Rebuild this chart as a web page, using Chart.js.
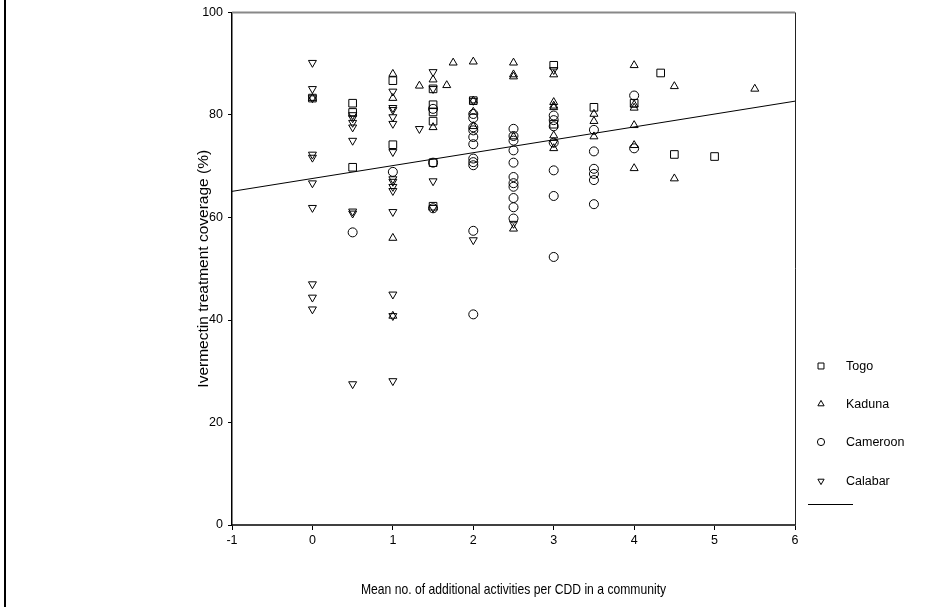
<!DOCTYPE html>
<html>
<head>
<meta charset="utf-8">
<script src="https://cdn.jsdelivr.net/npm/chart.js@4"></script>
<style>
  html, body { margin: 0; padding: 0; background: #fff; }
  #wrap { position: relative; width: 947px; height: 607px; }
  #frame { position: absolute; left: 4px; top: 0; width: 2px; height: 607px; background: #000; }
</style>
</head>
<body>
<div id="wrap">
  <canvas id="c" width="947" height="607"></canvas>
  <div id="frame"></div>
</div>
<script>
// Dados (x = atividades por CDD, y = cobertura %)
const togoX = [0, 0.5, 0.5, 0.5, 1, 1, 1.5, 1.5, 1.5, 1.5, 1.5, 1.5, 2, 3, 3, 3.5, 4, 4.33, 4.5, 5]
const togoY = [83.3, 82.3, 80.5, 69.8, 86.7, 74.2, 85.1, 82.0, 80.6, 78.8, 70.7, 62.2, 82.8, 89.7, 78.2, 81.5, 82.3, 88.2, 72.3, 71.9]

const kadunaX = [0, 1, 1, 1, 1, 1.33, 1.5, 1.5, 1.67, 1.75, 2, 2, 2, 2, 2.5, 2.5, 2.5, 2.5, 2.5,
  3, 3, 3, 3, 3, 3, 3.5, 3.5, 3.5, 4, 4, 4, 4, 4, 4, 4.5, 4.5, 5.5]
const kadunaY = [83.3, 88.0, 83.3, 56.0, 40.8, 85.7, 86.9, 77.6, 85.8, 90.2, 90.4, 80.6, 77.8, 82.8, 90.2, 87.9, 87.5, 75.8, 57.8,
  87.9, 82.5, 81.8, 81.5, 76.0, 73.5, 80.2, 78.8, 75.8, 89.7, 82.0, 81.4, 78.0, 74.1, 69.6, 85.6, 67.6, 85.1]

const cameroonX = [0.5, 1, 1.5, 1.5, 1.5, 2, 2, 2, 2, 2, 2, 2, 2, 2, 2, 2,
  2.5, 2.5, 2.5, 2.5, 2.5, 2.5, 2.5, 2.5, 2.5, 2.5, 2.5,
  3, 3, 3, 3, 3, 3, 3, 3.5, 3.5, 3.5, 3.5, 3.5, 3.5, 4, 4]
const cameroonY = [57.1, 68.9, 81.2, 70.7, 61.8, 80.2, 79.4, 77.6, 77.0, 75.7, 74.3, 71.5, 70.8, 70.2, 57.4, 41.1,
  77.3, 75.9, 75.0, 73.1, 70.7, 67.9, 66.7, 66.0, 63.8, 62.0, 59.8,
  79.9, 79.0, 77.8, 74.6, 69.2, 64.2, 52.3, 77.1, 72.9, 69.5, 68.5, 67.3, 62.6, 83.8, 73.5]

const calabarX = [0, 0, 0, 0, 0, 0, 0, 0, 0, 0,
  0.5, 0.5, 0.5, 0.5, 0.5, 0.5, 0.5, 0.5,
  1, 1, 1, 1, 1, 1, 1, 1, 1, 1, 1, 1, 1, 1,
  1.33, 1.5, 1.5, 1.5, 1.5, 2, 2, 2.5, 3, 3]
const calabarY = [90.2, 85.1, 83.3, 72.3, 71.7, 66.7, 61.9, 47.0, 44.4, 42.1,
  80.0, 79.4, 78.5, 77.6, 75.0, 61.2, 60.8, 27.5,
  84.6, 81.4, 81.0, 79.6, 78.3, 72.8, 67.5, 67.0, 66.0, 65.2, 61.1, 45.0, 40.8, 28.1,
  77.3, 88.4, 85.1, 67.1, 61.9, 82.8, 55.6, 58.8, 88.8, 74.6]

// Reta de regressão
const fitX = [-1, 6]
const fitY = [65.1, 82.7]

const xTicks = [-1, 0, 1, 2, 3, 4, 5, 6]
const yTicks = [0, 20, 40, 60, 80, 100]
const xTitle = 'Mean no. of additional activities per CDD in a community'

const pts = (xs, ys) => xs.map((x, i) => ({ x: x, y: ys[i] }))

const series = [
  { label: 'Togo', data: pts(togoX, togoY), pointStyle: 'rect', pointRadius: 5.4, pointRotation: 0 },
  { label: 'Kaduna', data: pts(kadunaX, kadunaY), pointStyle: 'triangle', pointRadius: 4.6, pointRotation: 0 },
  { label: 'Cameroon', data: pts(cameroonX, cameroonY), pointStyle: 'circle', pointRadius: 4.5, pointRotation: 0 },
  { label: 'Calabar', data: pts(calabarX, calabarY), pointStyle: 'triangle', pointRadius: 4.6, pointRotation: 180 }
]

const FONT = 'Arial, "Liberation Sans", sans-serif'

// Moldura superior/direita, título X condensado e legenda desenhada à mão
const framePlugin = {
  id: 'frame',
  afterDraw(chart) {
    const { ctx, chartArea: a } = chart
    ctx.save()
    ctx.strokeStyle = '#888'
    ctx.lineWidth = 2
    ctx.beginPath()
    ctx.moveTo(a.left, a.top)
    ctx.lineTo(a.right, a.top)
    ctx.stroke()
    ctx.strokeStyle = '#222'
    ctx.lineWidth = 1
    ctx.beginPath()
    ctx.moveTo(a.right + 0.5, a.top)
    ctx.lineTo(a.right + 0.5, a.bottom)
    ctx.stroke()

    // título do eixo X (fonte estreita)
    ctx.save()
    ctx.translate((a.left + a.right) / 2, 590)
    ctx.scale(0.81, 1)
    ctx.font = '15px ' + FONT
    ctx.fillStyle = '#000'
    ctx.textAlign = 'center'
    ctx.textBaseline = 'middle'
    ctx.fillText(xTitle, 0, 0)
    ctx.restore()

    // legenda
    const rows = [366, 404, 442, 481]
    series.forEach((s, i) => {
      ctx.strokeStyle = '#000'
      ctx.fillStyle = 'rgba(0,0,0,0)'
      ctx.lineWidth = 1
      Chart.helpers.drawPoint(ctx, {
        pointStyle: s.pointStyle,
        radius: s.pointStyle === 'rect' ? 4.2 : 3.6,
        rotation: s.pointRotation,
        borderWidth: 1
      }, 821, rows[i])
      ctx.font = '12.5px ' + FONT
      ctx.fillStyle = '#000'
      ctx.textBaseline = 'middle'
      ctx.fillText(s.label, 846, rows[i] + 1)
    })
    ctx.strokeStyle = '#000'
    ctx.beginPath()
    ctx.moveTo(808, 504.5)
    ctx.lineTo(853, 504.5)
    ctx.stroke()
    ctx.restore()
  }
}

new Chart(document.getElementById('c'), {
  type: 'scatter',
  data: {
    datasets: [
      ...series.map(s => ({
        label: s.label,
        data: s.data,
        pointStyle: s.pointStyle,
        pointRadius: s.pointRadius,
        pointRotation: s.pointRotation,
        pointBorderWidth: 1,
        borderColor: '#000',
        backgroundColor: 'rgba(0,0,0,0)',
        pointBackgroundColor: 'rgba(0,0,0,0)',
        pointBorderColor: '#000'
      })),
      {
        type: 'line',
        label: 'fit',
        data: pts(fitX, fitY),
        borderColor: '#000',
        borderWidth: 1,
        pointRadius: 0,
        fill: false
      }
    ]
  },
  options: {
    responsive: false,
    animation: false,
    events: [],
    layout: { padding: { top: 12, right: 152, left: 0, bottom: 0 } },
    plugins: {
      legend: { display: false },
      tooltip: { enabled: false }
    },
    scales: {
      x: {
        type: 'linear',
        min: -1,
        max: 6,
        afterBuildTicks: s => { s.ticks = xTicks.map(v => ({ value: v })) },
        afterFit: s => { s.height = 82 },
        ticks: { color: '#000', font: { family: FONT, size: 12.5 }, padding: 3 },
        grid: { drawOnChartArea: false, drawTicks: true, tickLength: 5, color: '#000' },
        border: { color: '#404040', width: 2 },
        title: { display: false }
      },
      y: {
        type: 'linear',
        min: 0,
        max: 100,
        afterBuildTicks: s => { s.ticks = yTicks.map(v => ({ value: v })) },
        afterFit: s => { s.width = 232 },
        ticks: { color: '#000', font: { family: FONT, size: 12.5 }, padding: 5 },
        grid: { drawOnChartArea: false, drawTicks: true, tickLength: 4, color: '#000' },
        border: { color: '#000', width: 1.5 },
        title: {
          display: true,
          text: 'Ivermectin treatment coverage (%)',
          color: '#000',
          font: { family: FONT, size: 15.5 },
          padding: { top: 194, bottom: 0 }
        }
      }
    }
  },
  plugins: [framePlugin]
})
</script>
</body>
</html>
